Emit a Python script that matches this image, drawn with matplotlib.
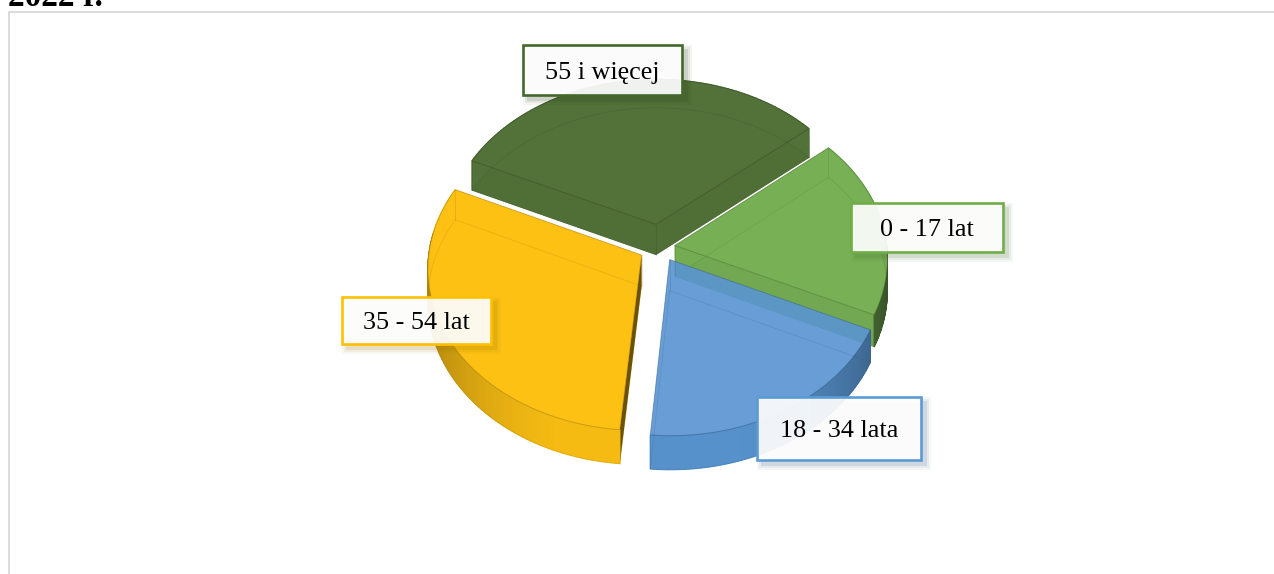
# -*- coding: utf-8 -*-
import numpy as np
import matplotlib
matplotlib.use('Agg')
import matplotlib.pyplot as plt
from matplotlib.patches import Polygon, Rectangle

# =============================================================================
# DATA
# -----------------------------------------------------------------------------
categories = ['0 - 17 lat', '18 - 34 lata', '35 - 54 lat', '55 i więcej']
shares = [18.0, 19.5, 30.5, 32.0]
title_tail = '2022 r.'

# =============================================================================
# STYLE
# -----------------------------------------------------------------------------
colors = ['#78b155', '#5995d1', '#fdc114', '#527239']
border_colors = ['#70ad47', '#5b9bd5', '#ffc000', '#43682b']
wall_dark = [0.45, 0.62, 0.70, 0.90]
face_alpha = [0.95, 0.85, 0.97, 0.95]
bottom_alpha = [0.9, 0.4, 0.9, 0.9]
radial_alpha = [1.0, 0.4, 1.0, 1.0]
radial_shade = [(0.97, 0.95), (1.0, 1.0), (0.42, 1.0), (0.97, 0.97)]
explode = [0.07, 0.09, 0.10, 0.145]
draw_order = [3, 0, 2, 1]
first_angle = 50.0

# label boxes: left, top, right, bottom in pixels
boxes = [(851, 203, 1003, 252), (757, 397, 921, 460),
         (342, 297, 491, 344), (523, 45, 682, 95)]

cx, cy = 660.0, 247.0
R, S = 212.0, 160.0
k = 0.08
depth = 31.0


# =============================================================================
# FUNCTIONS
# -----------------------------------------------------------------------------
def project(X, Y, z):
    # flat pie coordinates to screen pixels, with a little perspective
    f = 1.0 / (1.0 + k * Y)
    return cx + X * R * f, cy - Y * S * f + z * depth * f


def darker(col, amount):
    rgb = np.array(matplotlib.colors.to_rgb(col))
    return tuple(rgb * amount)


def slice_points(a0, a1, off, z):
    th = np.radians(np.linspace(a0, a1, 90))
    X = np.concatenate([[off[0]], off[0] + np.sin(th)])
    Y = np.concatenate([[off[1]], off[1] + np.cos(th)])
    sx, sy = project(X, Y, z)
    return np.column_stack([sx, sy])


def draw_slice(ax, i, a0, a1):
    mid = np.radians(0.5 * (a0 + a1))
    off = (explode[i] * np.sin(mid), explode[i] * np.cos(mid))
    col = colors[i]
    top = slice_points(a0, a1, off, 0.0)
    bot = slice_points(a0, a1, off, 1.0)
    line = darker(col, 0.55)

    # bottom face
    ax.add_patch(Polygon(bot, closed=True, fc=col, ec='none', alpha=bottom_alpha[i]))

    # radial walls, far one first
    for j, shade in zip((-1, 1), radial_shade[i][::-1]):
        q = np.array([top[0], top[j], bot[j], bot[0]])
        ax.add_patch(Polygon(q, closed=True, fc=darker(col, shade), ec='none',
                             alpha=radial_alpha[i]))

    # outer wall, cut in strips to get the shading
    n = len(top)
    for j in range(1, n - 1):
        ang = np.radians(a0 + (a1 - a0) * (j - 1) / (n - 2))
        if np.cos(ang) > 0.15:
            shade = 1.0
        else:
            shade = 1.0 - (1.0 - wall_dark[i]) * abs(np.sin(ang)) ** 2.2
            shade = min(shade, 0.97)
        q = np.array([top[j], top[j + 1], bot[j + 1], bot[j]])
        ax.add_patch(Polygon(q, closed=True, fc=darker(col, shade),
                             ec=darker(col, shade), lw=0.9))

    # top face
    ax.add_patch(Polygon(top, closed=True, fc=col, ec='none', alpha=face_alpha[i]))

    # thin edges, the far ones show through the face
    ax.add_patch(Polygon(top, closed=True, fc='none', ec=line, lw=0.7, alpha=0.4))
    ax.add_patch(Polygon(bot, closed=True, fc='none', ec=line, lw=0.6, alpha=0.18))
    for j in (0, 1, -1):
        ax.plot([top[j, 0], bot[j, 0]], [top[j, 1], bot[j, 1]], color=line,
                lw=0.6, alpha=0.22)


def draw_label(ax, text, box, edge):
    x0, y0, x1, y1 = box
    shadow = darker(edge, 0.6)
    for grow, al in ((5, 0.05), (3, 0.08), (1, 0.12)):
        ax.add_patch(Rectangle((x0 + 5 - grow, y0 + 5 - grow),
                               x1 - x0 + 2 * grow, y1 - y0 + 2 * grow,
                               fc=shadow, ec='none', alpha=al))
    ax.add_patch(Rectangle((x0, y0), x1 - x0, y1 - y0, fc=(1, 1, 1, 0.92),
                           ec=edge, lw=1.9))
    ax.text(0.5 * (x0 + x1), 0.5 * (y0 + y1) + 2.5, text, ha='center', va='center',
            family='Liberation Serif', fontsize=18.8, color='black')


# =============================================================================
# MAIN SCRIPT
# -----------------------------------------------------------------------------
fig = plt.figure(figsize=(12.74, 5.74), dpi=100)
ax = fig.add_axes([0, 0, 1, 1])
ax.set_xlim(0, 1274)
ax.set_ylim(574, 0)
ax.axis('off')

# chart frame and the cut off heading above it
ax.plot([9.0, 9.0, 1274], [574, 12.0, 12.0], color='#d9d9d9', lw=1.3)
ax.text(8, 6, title_tail, family='Liberation Serif', weight='bold',
        fontsize=24, ha='left', va='baseline', color='black')

edges = first_angle + np.concatenate([[0.0], np.cumsum(shares)]) / np.sum(shares) * 360.0

for i in draw_order:
    draw_slice(ax, i, edges[i], edges[i + 1])

for i in range(len(categories)):
    draw_label(ax, categories[i], boxes[i], border_colors[i])

plt.savefig('out.png', dpi=100)
